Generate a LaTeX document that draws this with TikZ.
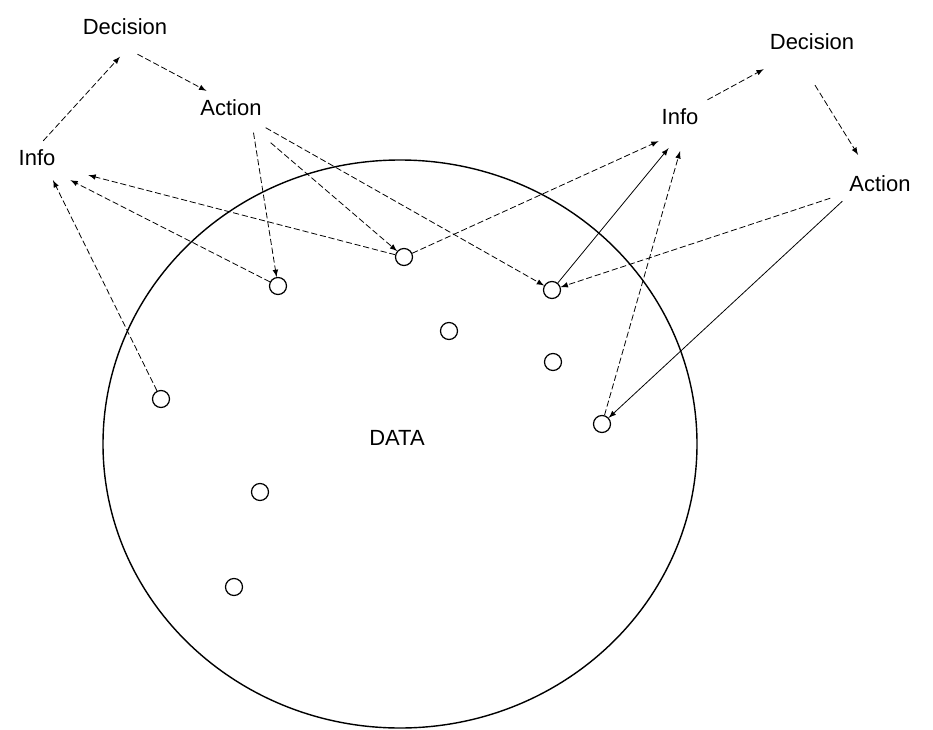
\documentclass[tikz,border=0pt]{standalone}
\usepackage{fontspec}
\setmainfont{Liberation Sans}
\usepackage{tikz}
\usetikzlibrary{arrows}

\begin{document}
\begin{tikzpicture}[
    x=0.02cm, y=-0.02cm,
    lbl/.style={
        inner sep=5pt, font=\fontsize{12.5}{14}\selectfont},
    obj/.style={
        circle, draw=black, line width=0.7pt,
        minimum size=0.34cm, inner sep=0pt},
    flow/.style={-latex, line width=0.45pt,
        dash pattern=on 3.5pt off 1.6pt},
    flowsolid/.style={-latex, line width=0.45pt}
]
\useasboundingbox (0,0) rectangle (933,730);

%% ── Data store ──────────────────────────────────────────────────
\draw[line width=0.8pt] (400,444) ellipse [x radius=297, y radius=284];
\node[lbl] (data) at (397,438) {DATA};

%% ── Data items ──────────────────────────────────────────────────
\node[obj] (d1) at (278,286) {};
\node[obj] (d2) at (404,257) {};
\node[obj] (d3) at (552,290) {};
\node[obj] (d4) at (449,331) {};
\node[obj] (d5) at (553,362) {};
\node[obj] (d6) at (161,399) {};
\node[obj] (d7) at (602,424) {};
\node[obj] (d8) at (260,492) {};
\node[obj] (d9) at (234,587) {};

%% ── Left cycle ──────────────────────────────────────────────────
\node[lbl] (dec1)  at (125,27)  {Decision};
\node[lbl] (act1)  at (231,108) {Action};
\node[lbl] (info1) at (37,158)  {Info};

%% ── Right cycle ─────────────────────────────────────────────────
\node[lbl] (dec2)  at (812,42)  {Decision};
\node[lbl] (info2) at (680,117) {Info};
\node[lbl] (act2)  at (880,184) {Action};

%% ── Arrows: left cycle ──────────────────────────────────────────
\draw[flow] (info1.70) -- ([xshift=-0.1cm,yshift=-0.25cm]dec1.south);
\draw[flow] ([xshift=0.25cm,yshift=-0.2cm]dec1.south)
    -- ([xshift=0.3cm]act1.north west);

%% ── Arrows: Action → data (left) ────────────────────────────────
\draw[flow] ([xshift=0.45cm,yshift=-0.15cm]act1.south) -- (d1);
\draw[flow] ([yshift=-0.35cm]act1.south east) -- (d2);
\draw[flow] ([xshift=-0.1cm,yshift=-0.05cm]act1.south east) -- (d3);

%% ── Arrows: data → Info (left) ──────────────────────────────────
\draw[flow] (d1) -- ([xshift=0.12cm,yshift=-0.1cm]info1.south east);
\draw[flow] (d2) -- ([xshift=0.48cm]info1.south east);
\draw[flow] (d6) -- ([xshift=0.32cm,yshift=-0.1cm]info1.south);

%% ── Arrows: right cycle ─────────────────────────────────────────
\draw[flow] (info2.north east)
    -- ([xshift=0.06cm,yshift=-0.2cm]dec2.south west);
\draw[flow] ([xshift=0.06cm,yshift=-0.52cm]dec2.south)
    -- ([xshift=-0.44cm,yshift=0.24cm]act2.north);

%% ── Arrows: data → Info (right) ─────────────────────────────────
\draw[flow] (d2) -- ([xshift=0.12cm,yshift=-0.14cm]info2.south west);
\draw[flowsolid] (d3) -- ([xshift=0.32cm,yshift=-0.28cm]info2.south west);
\draw[flow] (d7) -- ([yshift=-0.34cm]info2.south);

%% ── Arrows: Action → data (right) ───────────────────────────────
\draw[flow] ([xshift=-0.2cm,yshift=0.06cm]act2.south west) -- (d3);
\draw[flowsolid] ([xshift=0.04cm]act2.south west) -- (d7);

\end{tikzpicture}
\end{document}
